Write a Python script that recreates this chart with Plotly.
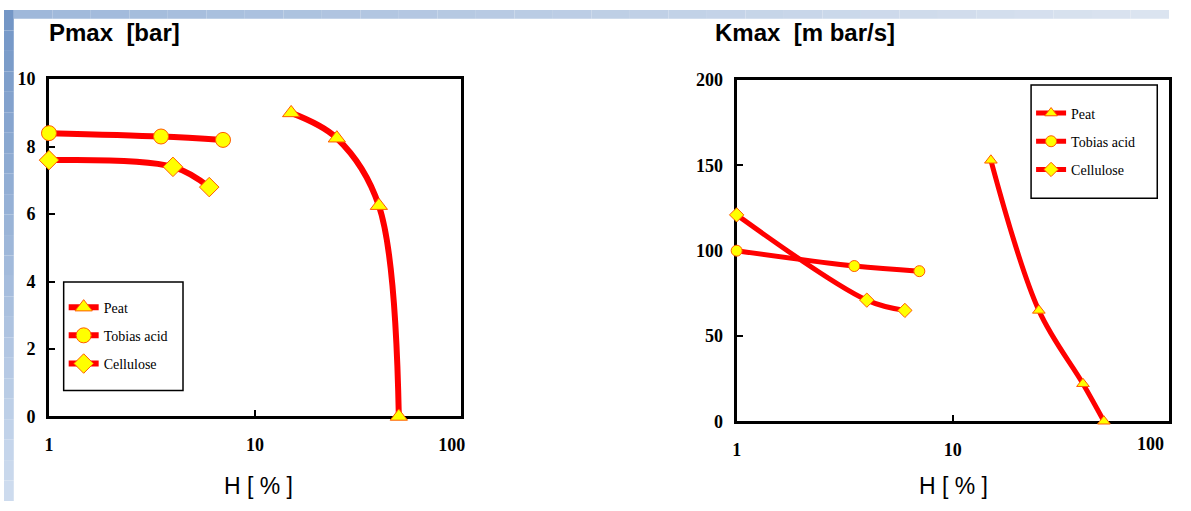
import plotly.graph_objects as go

W, H = 1191, 511

# ---------------- data ----------------
series_names = ["Peat", "Tobias acid", "Cellulose"]
symbols = ["triangle-up", "circle", "diamond"]

# moisture H [%]
peat_h = [15, 25, 40, 50]
tobias_h = [1, 3.5, 7]
cellulose_h = [1, 4, 6]

# Pmax [bar]
peat_pmax = [9.0, 8.25, 6.25, 0.0]
tobias_pmax = [8.4, 8.3, 8.2]
cellulose_pmax = [7.6, 7.4, 6.8]

# Kmax [m bar/s]
peat_kmax = [153, 65, 22, 0]
tobias_kmax = [100, 91, 88]
cellulose_kmax = [121, 71, 65]

x_ticks = [1, 10, 100]
x_tick_labels = ["1", "10", "100"]
p_ticks = [0, 2, 4, 6, 8, 10]
k_ticks = [0, 50, 100, 150, 200]

# ---------------- figure ----------------
def px(x):
    return x / W

def py(y):
    return (H - y) / H

RED = "#ff0000"
YEL = "#ffff00"
EDGE = "#ff5a00"

fig = go.Figure()
left_x = [peat_h, tobias_h, cellulose_h]
left_y = [peat_pmax, tobias_pmax, cellulose_pmax]
right_y = [peat_kmax, tobias_kmax, cellulose_kmax]

for i, name in enumerate(series_names):
    fig.add_trace(go.Scatter(
        x=left_x[i], y=left_y[i], name=name, mode="lines+markers",
        line=dict(color=RED, width=6, shape="spline", smoothing=1.0),
        marker=dict(symbol=symbols[i], size=15, color=YEL, line=dict(color=EDGE, width=1)),
        xaxis="x", yaxis="y", legend="legend", legendgroup="L" + str(i), cliponaxis=False))
for i, name in enumerate(series_names):
    fig.add_trace(go.Scatter(
        x=left_x[i], y=right_y[i], name=name, mode="lines+markers",
        line=dict(color=RED, width=5, shape="spline", smoothing=1.0),
        marker=dict(symbol=symbols[i], size=11, color=YEL, line=dict(color=EDGE, width=1)),
        xaxis="x2", yaxis="y2", legend="legend2", legendgroup="R" + str(i), cliponaxis=False))

tick_font = dict(family="Liberation Serif, Times New Roman, serif", size=18, color="black", weight="bold")
axis_common = dict(showline=True, linecolor="black", linewidth=3, mirror=True,
                   ticks="inside", ticklen=6, tickwidth=2, tickcolor="black",
                   showgrid=False, zeroline=False, tickfont=tick_font, layer="below traces")
legend_font = dict(family="Liberation Serif, Times New Roman, serif", size=14, color="black")

fig.update_layout(
    width=W, height=H, margin=dict(l=0, r=0, t=0, b=0, pad=0),
    paper_bgcolor="white", plot_bgcolor="white",
    xaxis=dict(type="log", range=[0, 2], domain=[px(46), px(467)], anchor="y",
               tickvals=x_ticks, ticktext=["1", "10", "100\u2007\u2007"],
               ticklabelstandoff=10, **axis_common),
    yaxis=dict(range=[0, 10], domain=[py(423), py(72)], anchor="x",
               tickvals=p_ticks, ticklabelstandoff=7, **axis_common),
    xaxis2=dict(type="log", range=[0, 2], domain=[px(749), 1.0], anchor="y2",
                tickvals=x_ticks, ticktext=[x_tick_labels[0], x_tick_labels[1], ""],
                ticklabelstandoff=10, **axis_common),
    yaxis2=dict(range=[0, 200], domain=[py(428), py(73)], anchor="x2",
                tickvals=k_ticks, ticklabelstandoff=7, **axis_common),
    legend=dict(x=px(61), y=py(293), xanchor="left", yanchor="top", bgcolor="rgba(0,0,0,0)",
                borderwidth=0, font=legend_font, tracegroupgap=7),
    legend2=dict(x=px(1050), y=py(91), xanchor="left", yanchor="top", bgcolor="rgba(0,0,0,0)",
                 borderwidth=0, font=legend_font, tracegroupgap=7),
    showlegend=True,
)

title_font = dict(family="Liberation Sans, Arial, sans-serif", size=24, color="black", weight="bold")
label_font = dict(family="Liberation Sans, Arial, sans-serif", size=23, color="black")
fig.add_annotation(text="Pmax\u00a0 [bar]", x=px(44), y=py(23), xref="paper", yref="paper",
                   xanchor="left", yanchor="middle", showarrow=False, font=title_font)
fig.add_annotation(text="Kmax\u00a0 [m bar/s]", x=px(725), y=py(23), xref="paper", yref="paper",
                   xanchor="left", yanchor="middle", showarrow=False, font=title_font)
fig.add_annotation(text="H [ % ]", x=px(260), y=py(495), xref="paper", yref="paper",
                   xanchor="center", yanchor="middle", showarrow=False, font=label_font)
fig.add_annotation(text="H [ % ]", x=px(971), y=py(495), xref="paper", yref="paper",
                   xanchor="center", yanchor="middle", showarrow=False, font=label_font)
# the right panel's "100" label sits at the cut-off right edge
fig.add_annotation(text=x_tick_labels[2], x=px(1188), y=py(452), xref="paper", yref="paper",
                   xanchor="right", yanchor="middle", showarrow=False, font=tick_font)

# decorative slide background: blue strip on the left and along the top
def mix(c1, c2, t):
    a = [int(c1[i:i + 2], 16) for i in (1, 3, 5)]
    b = [int(c2[i:i + 2], 16) for i in (1, 3, 5)]
    return "#" + "".join("%02x" % round(a[k] + (b[k] - a[k]) * t) for k in range(3))

shapes = []
n = 24
for k in range(n):
    y0 = H * k / n
    y1 = H * (k + 1) / n
    shapes.append(dict(type="rect", xref="paper", yref="paper", layer="below",
                       x0=0, x1=px(10), y0=py(y1), y1=py(y0),
                       fillcolor=mix("#7396c6", "#cddbee", k / (n - 1)), line=dict(width=0)))
m = 30
for k in range(m):
    x0 = 10 + (W - 10) * k / m
    x1 = 10 + (W - 10) * (k + 1) / m
    shapes.append(dict(type="rect", xref="paper", yref="paper", layer="below",
                       x0=px(x0), x1=px(x1), y0=py(9), y1=1,
                       fillcolor=mix("#9fb8da", "#dbe4f0", k / (m - 1)), line=dict(width=0)))

# legend frames
for (lx0, ly0, lx1, ly1) in [(61, 283, 183, 396), (1050, 78, 1179, 196)]:
    shapes.append(dict(type="rect", xref="paper", yref="paper", layer="above",
                       x0=px(lx0), x1=px(lx1), y0=py(ly1), y1=py(ly0),
                       fillcolor="white", line=dict(color="black", width=1.5)))
fig.update_layout(shapes=shapes)

page_fix = (
    "document.documentElement.style.margin='0';"
    "document.body.style.margin='0';"
)

fig.write_html("out.html", post_script=page_fix, config={"displayModeBar": False})
